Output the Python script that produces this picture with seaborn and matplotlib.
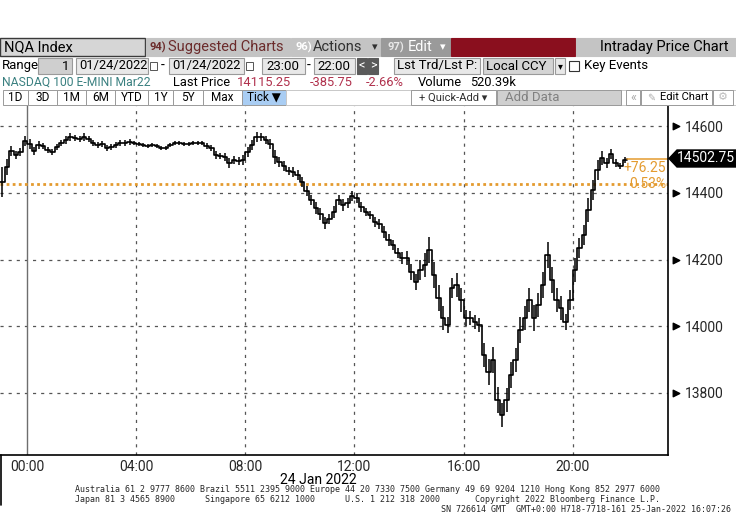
import pandas as pd
import seaborn as sns
import matplotlib.pyplot as plt
import matplotlib.dates as mdates
from matplotlib import font_manager
from matplotlib.patches import Rectangle, Polygon
from matplotlib.transforms import blended_transform_factory

# NASDAQ 100 E-mini, 10-minute reads taken off the screen, from 23:00 on 23 Jan
prices = [14433, 14478, 14526, 14514, 14523, 14556,
          14547, 14526, 14544, 14541, 14529, 14523,
          14538, 14550, 14559, 14568, 14565, 14562,
          14568, 14562, 14550, 14544, 14547, 14535,
          14538, 14544, 14550, 14550, 14553, 14550,
          14547, 14544, 14541, 14544, 14541, 14535,
          14535, 14544, 14550, 14550, 14547, 14547,
          14550, 14550, 14550, 14541, 14535, 14514,
          14511, 14508, 14490, 14499, 14496, 14499,
          14523, 14544, 14568, 14568, 14559, 14547,
          14508, 14493, 14481, 14466, 14463, 14454,
          14433, 14406, 14379, 14355, 14337, 14310,
          14322, 14342, 14379, 14364, 14370, 14391,
          14385, 14358, 14342, 14334, 14313, 14307,
          14283, 14259, 14244, 14220, 14205, 14205,
          14163, 14133, 14169, 14184, 14229, 14154,
          14085, 14025, 14004, 14115, 14124, 14079,
          14025, 14025, 14013, 14004, 13914, 13863,
          13899, 13779, 13734, 13779, 13854, 13899,
          13989, 14025, 14079, 14025, 14064, 14124,
          14214, 14139, 14079, 14055, 14013, 14079,
          14169, 14235, 14274, 14349, 14409, 14469,
          14505, 14490, 14517, 14490, 14481, 14499,
          14502.75]
# half height of the tick bars seen in each 10-minute slot
spread = [45, 25, 15, 12, 12, 15,
          15, 12, 12, 10, 10, 10,
          10, 10, 12, 12, 10, 10,
          12, 10, 10, 10, 10, 8,
          8, 8, 8, 8, 8, 6,
          6, 6, 6, 6, 6, 6,
          6, 6, 6, 6, 6, 6,
          6, 6, 6, 8, 10, 12,
          10, 12, 15, 12, 12, 15,
          15, 15, 15, 12, 12, 15,
          20, 15, 15, 12, 15, 15,
          15, 15, 15, 18, 18, 18,
          15, 18, 15, 18, 15, 15,
          15, 15, 12, 12, 15, 15,
          18, 18, 15, 15, 18, 20,
          25, 25, 30, 35, 40, 40,
          40, 35, 25, 30, 35, 35,
          25, 20, 20, 20, 35, 40,
          40, 40, 35, 35, 40, 35,
          40, 35, 35, 40, 35, 40,
          40, 40, 35, 35, 25, 30,
          35, 30, 30, 35, 30, 30,
          20, 15, 15, 12, 10, 10,
          0]
last_price = 14502.75
prev_close = 14426.5
y_ticks = [13800, 14000, 14200, 14400, 14600]
y_tick_labels = ["13800", "14000", "14200", "14400", "14600"]
tabs = ["1D", "3D", "1M", "6M", "YTD", "1Y", "5Y", "Max"]

times = pd.date_range("2022-01-23 23:00", periods=len(prices), freq="10min")
df = pd.DataFrame({"time": times, "price": prices, "spread": spread})
df["lo"] = df["price"] - df["spread"]
df["hi"] = df["price"] + df["spread"]

sns.set_style("white")
names = {f.name for f in font_manager.fontManager.ttflist}
ui_font = next(f for f in ["Liberation Sans Narrow", "Roboto", "DejaVu Sans"] if f in names)
plt.rcParams["font.family"] = [ui_font, "DejaVu Sans"]

W, H = 736, 530
fig = plt.figure(figsize=(W / 100, H / 100), dpi=100)
fig.patch.set_facecolor("white")


def fx(x):
    return x / W


def fy(y):
    return 1 - y / H


def box(x0, y0, x1, y1, fc, ec=None, lw=0.8):
    fig.add_artist(Rectangle((fx(x0), fy(y1)), (x1 - x0) / W, (y1 - y0) / H,
                             transform=fig.transFigure, facecolor=fc,
                             edgecolor=ec if ec else fc, linewidth=lw))


def txt(x, y, s, size=9.5, color="black", ha="left", **kw):
    fig.text(fx(x), fy(y), s, fontsize=size, color=color, ha=ha, va="center", **kw)


ax = fig.add_axes([0, fy(455), fx(668), fy(105) - fy(455)])
sns.lineplot(data=df, x="time", y="price", ax=ax, color="black", linewidth=1.2,
             drawstyle="steps-post", legend=False)
ax.vlines(df["time"] + pd.Timedelta(minutes=5), df["lo"], df["hi"], color="black", lw=1.1)

ax.set_xlim(pd.Timestamp("2022-01-23 23:00"), pd.Timestamp("2022-01-24 23:30"))
ax.set_ylim(13614, 14664)
ax.set_xlabel("")
ax.set_ylabel("")

# grid
for v in y_ticks:
    ax.axhline(v, color="#555555", lw=0.9, ls=(0, (2.5, 4)), zorder=0)
for hh in [4, 8, 12, 16, 20]:
    ax.axvline(pd.Timestamp("2022-01-24") + pd.Timedelta(hours=hh), color="#555555",
               lw=0.9, ls=(0, (2.5, 4)), zorder=0)
ax.axvline(pd.Timestamp("2022-01-24"), color="#6e6e6e", lw=1.0, zorder=0)

# previous close and last price
btr = blended_transform_factory(ax.transAxes, ax.transData)
ax.axhline(prev_close, color="#E49B2F", lw=2.0, ls=(0, (1, 1.2)), zorder=1)
ax.plot([times[-1], pd.Timestamp("2022-01-24 23:30")], [last_price, last_price],
        color="#E49B2F", lw=1.1)
ax.text(0.997, last_price - 28, f"+{last_price - prev_close:.2f}", transform=btr,
        ha="right", va="center", color="#E49B2F", fontsize=10)
ax.text(0.997, prev_close, f"{(last_price - prev_close) / prev_close * 100:.2f}%",
        transform=btr, ha="right", va="center", color="#E49B2F", fontsize=10)

# axes frame
for s in ["top", "left"]:
    ax.spines[s].set_visible(False)
for s in ["right", "bottom"]:
    ax.spines[s].set_color("black")
    ax.spines[s].set_linewidth(1.2)

ax.yaxis.tick_right()
ax.set_yticks(y_ticks)
ax.set_yticklabels(y_tick_labels, fontsize=10)
ax.tick_params(axis="y", length=0, pad=12)
ax.scatter([1.012] * len(y_ticks), y_ticks, marker=">", s=22, color="black",
           transform=btr, clip_on=False)

ax.xaxis.set_major_locator(mdates.HourLocator(byhour=[0, 4, 8, 12, 16, 20]))
ax.xaxis.set_minor_locator(mdates.HourLocator(byhour=range(0, 24, 2)))
ax.xaxis.set_major_formatter(mdates.DateFormatter("%H:%M"))
ax.tick_params(axis="x", which="major", length=3, labelsize=10, pad=0.5, color="#888888")
ax.tick_params(axis="x", which="minor", length=3, color="#888888")

# last price tag on the axis
tag = Polygon([[fx(669), fy(158.5)], [fx(677), fy(150)], [fx(736), fy(150)],
               [fx(736), fy(167)], [fx(677), fy(167)]], closed=True,
              transform=fig.transFigure, facecolor="black", edgecolor="black")
fig.add_artist(tag)
txt(706, 158.5, f"{last_price:.2f}", size=10, color="white", ha="center")

# date under the time axis and left stub
txt(318, 480, "24 Jan 2022", size=10, ha="center")
fig.add_artist(plt.Line2D([fx(0.6), fx(0.6)], [fy(455), fy(505)], color="black", lw=1.2,
                          transform=fig.transFigure))

# footer
mono = "DejaVu Sans Mono"
fig.text(fx(75), fy(490), "Australia 61 2 9777 8600 Brazil 5511 2395 9000 Europe 44 20 7330 7500 "
         "Germany 49 69 9204 1210 Hong Kong 852 2977 6000", fontsize=6.05, family=mono, va="center")
fig.text(fx(75), fy(499.5), "Japan 81 3 4565 8900      Singapore 65 6212 1000      U.S. 1 212 318 2000"
         "       Copyright 2022 Bloomberg Finance L.P.", fontsize=6.05, family=mono, va="center")
fig.text(fx(731), fy(509), "SN 726614 GMT  GMT+0:00 H718-7718-161 25-Jan-2022 16:07:26",
         fontsize=6.05, family=mono, va="center", ha="right")

# toolbar row 1
box(0, 38, 145, 56, "#d6d6d6", "#3a3a3a", 1.0)
txt(4, 47, "NQA Index", size=10.5)
box(146, 38, 290, 56, "#c4c4c4")
txt(150, 47, "94)", size=8, color="#6b2b2b", weight="bold")
txt(168, 47, "Suggested Charts", size=10.5, color="#6b2b2b")
box(291, 38, 380, 56, "#c4c4c4")
txt(296, 47, "96)", size=8, color="white", weight="bold")
txt(313, 47, "Actions", size=10.5, color="#303030")
txt(372, 47, "▾", size=8, color="#303030")
box(381, 38, 450, 56, "#9a9a9a")
txt(388, 47, "97)", size=8, color="#e8e8e8", weight="bold")
txt(408, 47, "Edit", size=10.5, color="white")
txt(440, 47, "▾", size=8, color="white")
box(451, 38, 575, 56, "#8a0f1e")
box(576, 38, 736, 56, "#c4c4c4")
txt(728, 47, "Intraday Price Chart", size=10.5, ha="right")

# toolbar row 2
txt(2, 66, "Range", size=9.5)
box(38, 58, 72, 74, "#cfcfcf", "#9a9a9a")
txt(69, 66, "1", size=9.5, ha="right")
for x0, x1 in [(76, 148), (169, 244)]:
    box(x0, 58, x1, 74, "#e8e8e8", "#9a9a9a")
    txt(x0 + 3, 66, "01/24/2022", size=9.3)
    box(x1 + 2, 62, x1 + 9, 70, "white", "#555555", 0.7)
txt(161, 66, "-", size=10)
box(262, 58, 305, 74, "#e8e8e8", "#9a9a9a")
txt(266, 66, "23:00", size=9.5)
txt(307, 66, "-", size=10)
box(314, 58, 355, 74, "#e8e8e8", "#9a9a9a")
txt(317, 66, "22:00", size=9.5)
box(357, 58, 367, 74, "#5a5a5a")
txt(362, 66, "<", size=9, color="white", ha="center")
box(368, 58, 378, 74, "#5a5a5a")
txt(373, 66, ">", size=9, color="white", ha="center")
box(394, 58, 480, 74, "#e8e8e8", "#9a9a9a")
txt(397, 66, "Lst Trd/Lst P:", size=9.5)
box(483, 58, 553, 74, "#d4d4d4", "#9a9a9a")
txt(486, 66, "Local CCY", size=9.5)
box(555, 58, 565, 74, "#e8e8e8", "#9a9a9a")
txt(560, 66, "▾", size=7, ha="center")
box(569, 61, 579, 71, "white", "#333333", 0.8)
txt(584, 66, "Key Events", size=9.5)

# quote line
txt(2, 82, "NASDAQ 100 E-MINI Mar22", size=8.7, color="#3a8080")
txt(173, 82, "Last Price", size=9.3)
txt(237, 82, "14115.25", size=9.3, color="#b0304c")
txt(310, 82, "-385.75", size=9.3, color="#b0304c")
txt(366, 82, "-2.66%", size=9.3, color="#b0304c")
txt(418, 82, "Volume", size=9.3)
txt(470, 82, "520.39k", size=9.3)

# tabs
seps = [3, 28, 57, 86, 115, 148, 173, 203, 242]
for i, lab in enumerate(tabs):
    box(seps[i], 90, seps[i + 1], 105, "white", "#9a9a9a", 0.7)
    txt((seps[i] + seps[i + 1]) / 2, 97.5, lab, size=8.5, ha="center")
box(242, 90, 286, 105, "#a9cdf3", "#9a9a9a", 0.7)
txt(264, 97.5, "Tick ▼", size=8.5, ha="center")
box(286, 90, 736, 105, "white", "#c8c8c8", 0.7)
box(411, 90, 496, 105, "white", "#9a9a9a", 0.7)
txt(419, 97.5, "+ Quick-Add ▾", size=8, color="#303030")
box(497, 90, 621, 105, "#cfcfcf", "#9a9a9a", 0.7)
txt(505, 97.5, "Add Data", size=9.5, color="#808080")
box(626, 90, 640, 105, "white", "#9a9a9a", 0.7)
txt(633, 97.5, "«", size=9, color="#aaaaaa", ha="center")
box(641, 90, 712, 105, "white", "#9a9a9a", 0.7)
txt(647, 97.5, "✎", size=7, color="#aaaaaa")
txt(660, 97.5, "Edit Chart", size=8)
box(713, 90, 733, 105, "white", "#9a9a9a", 0.7)
txt(723, 97.5, "⚙", size=8, color="#bbbbbb", ha="center")

fig.savefig("out.png", dpi=100)
